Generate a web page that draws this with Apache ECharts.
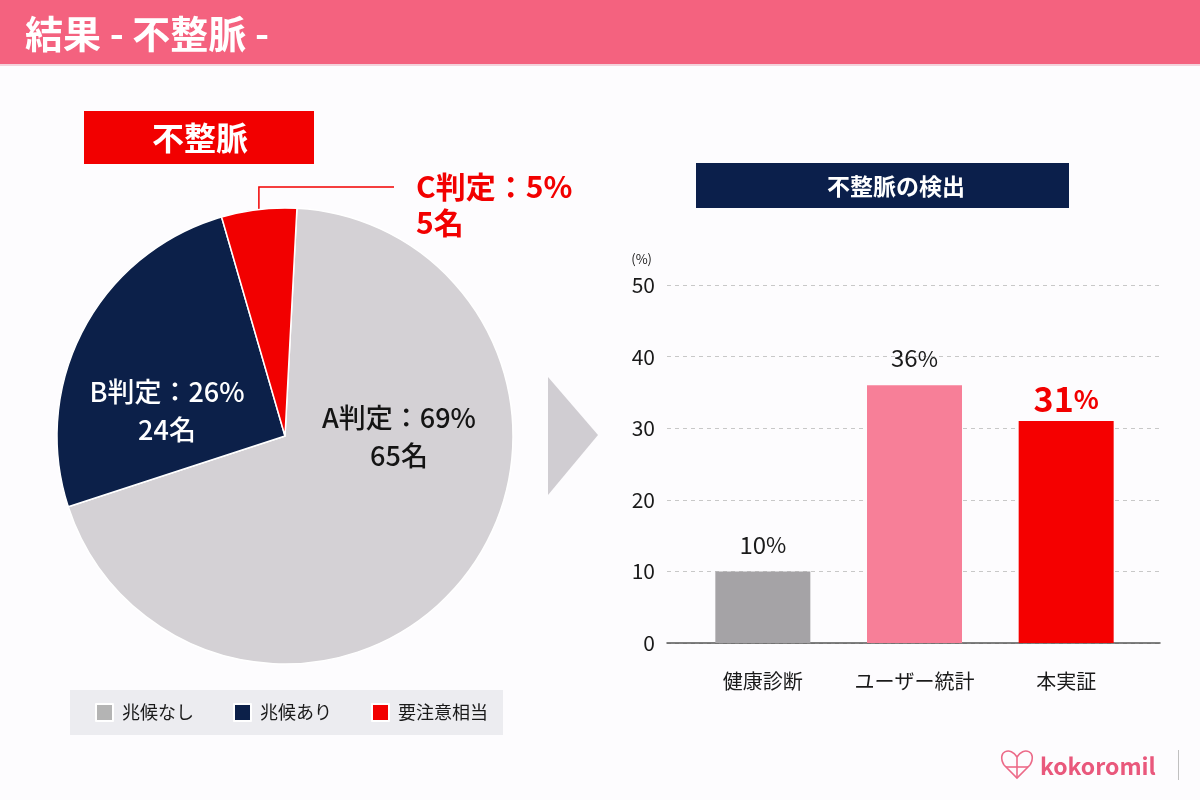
<!DOCTYPE html>
<html>
<head>
<meta charset="utf-8">
<script src="https://cdn.jsdelivr.net/npm/echarts@6/dist/echarts.min.js"></script>
<style>
  html, body { margin: 0; padding: 0; background: #fdfcfe; }
  #main { width: 1200px; height: 800px; }
</style>
</head>
<body>
<div id="main"></div>
<script>
// 円グラフ（不整脈の判定）
var pieNames = ['兆候なし', '兆候あり', '要注意相当'];
var pieGrades = ['A', 'B', 'C'];
var pieCounts = [65, 24, 5];

// 棒グラフ（不整脈の検出率 %）
var barCategories = ['健康診断', 'ユーザー統計', '本実証'];
var barValues = [10, 36, 31];
var yMin = 0, yMax = 50, yStep = 10;

var FONT = '"Noto Sans CJK JP", "Noto Sans", sans-serif';
var pieColors = ['#d4d1d5', '#0c2049', '#f20000'];
var legendColors = ['#b4b4b4', '#0c2049', '#f20000'];
var labelColors = ['#141414', '#ffffff', '#f20000'];
var barColors = ['#a5a3a6', '#f77f98', '#f50000'];

var myChart = echarts.init(document.getElementById('main'));

var pieData = pieNames.map(function (n, i) {
    return {
        name: n,
        value: pieCounts[i],
        itemStyle: { color: pieColors[i] },
        label: i === 2 ? {
            position: 'outside',
            color: labelColors[i],
            fontSize: 30,
            fontWeight: 'bold',
            lineHeight: 36,
            overflow: 'none',
            width: 300
        } : {
            position: 'inside',
            color: labelColors[i],
            fontSize: 27,
            fontWeight: 500,
            lineHeight: 38
        },
        labelLine: { show: i === 2 }
    };
});

var barData = barValues.map(function (v, i) {
    var big = i === 2;
    return {
        value: v,
        itemStyle: { color: barColors[i] },
        label: {
            distance: big ? 5 : 15,
            formatter: '{v|{c}}{p|%}',
            rich: {
                v: { fontSize: big ? 34 : 24, fontWeight: big ? 'bold' : 'normal', color: big ? '#f20000' : '#1a1a1a', fontFamily: FONT },
                p: { fontSize: big ? 26 : 22, fontWeight: big ? 'bold' : 'normal', color: big ? '#f20000' : '#1a1a1a', fontFamily: FONT }
            }
        }
    };
});

var logoStroke = { fill: 'none', stroke: '#ec6a88', lineWidth: 1.6 };

var option = {
    backgroundColor: '#fdfcfe',
    textStyle: { fontFamily: FONT },
    animation: false,
    legend: {
        left: 70,
        top: 690,
        padding: [13, 15, 13, 25],
        backgroundColor: '#ececf0',
        itemWidth: 17,
        itemHeight: 17,
        itemGap: 39,
        icon: 'rect',
        textStyle: { fontSize: 18, color: '#1a1a1a', fontFamily: FONT, padding: [0, 0, 0, 4] },
        data: pieNames.map(function (n, i) {
            return { name: n, itemStyle: { color: legendColors[i] } };
        })
    },
    grid: [
        { left: 667, right: 40, top: 285, bottom: 157 },
        { left: 687, right: 58, top: 285, bottom: 157 }
    ],
    xAxis: [
        {
            type: 'category', gridIndex: 0, data: barCategories,
            axisLine: { lineStyle: { color: '#555', width: 1.5 } },
            axisTick: { show: false }, axisLabel: { show: false }
        },
        {
            type: 'category', gridIndex: 1, data: barCategories,
            axisLine: { show: false }, axisTick: { show: false },
            axisLabel: { interval: 0, margin: 28, fontSize: 20, color: '#1a1a1a', fontFamily: FONT }
        }
    ],
    yAxis: [
        {
            type: 'value', gridIndex: 0, min: yMin, max: yMax, interval: yStep,
            name: '(%)', nameLocation: 'end', nameGap: 19,
            nameTextStyle: { fontSize: 13, color: '#1a1a1a', align: 'right', padding: [0, 15, 0, 0] },
            axisLine: { show: false }, axisTick: { show: false },
            axisLabel: { margin: 12, fontSize: 21, color: '#1a1a1a', fontFamily: FONT },
            splitLine: { lineStyle: { color: '#c8c8c8', type: [4, 4] } }
        },
        {
            type: 'value', gridIndex: 1, min: yMin, max: yMax, interval: yStep,
            axisLine: { show: false }, axisTick: { show: false },
            axisLabel: { show: false }, splitLine: { show: false }
        }
    ],
    series: [
        {
            type: 'pie',
            center: [285, 436],
            radius: 228,
            startAngle: 87,
            clockwise: true,
            percentPrecision: 0,
            itemStyle: { borderColor: '#ffffff', borderWidth: 1.5 },
            emphasis: { disabled: true },
            label: {
                fontFamily: FONT,
                formatter: function (p) {
                    return pieGrades[p.dataIndex] + '判定：' + p.percent + '%\n' + p.value + '名';
                }
            },
            labelLine: { length: 20, length2: 130, lineStyle: { color: '#f20000', width: 1.5 } },
            labelLayout: function (p) {
                var i = p.dataIndex;
                if (i === 0) return { x: 399, y: 437, align: 'center', verticalAlign: 'middle' };
                if (i === 1) return { x: 167, y: 411, align: 'center', verticalAlign: 'middle' };
                var s = p.labelLinePoints ? p.labelLinePoints[0] : [258, 208];
                return {
                    x: 416, y: 205, align: 'left', verticalAlign: 'middle',
                    labelLinePoints: [s, [s[0], 187], [394, 187]]
                };
            },
            data: pieData
        },
        {
            type: 'bar',
            xAxisIndex: 1,
            yAxisIndex: 1,
            barWidth: 95,
            label: { show: true, position: 'top' },
            data: barData
        }
    ],
    graphic: [
        // ヘッダー
        { type: 'rect', shape: { x: 0, y: 0, width: 1200, height: 64 }, style: { fill: '#f4627f' } },
        { type: 'rect', shape: { x: 0, y: 64, width: 1200, height: 2 }, style: { fill: '#f3d3dc' } },
        { type: 'text', x: 25, y: 34, style: { text: '結果 - 不整脈 -', fill: '#ffffff', font: 'bold 38px ' + FONT, verticalAlign: 'middle' } },
        // 左の見出し
        { type: 'rect', shape: { x: 84, y: 111, width: 230, height: 53 }, style: { fill: '#f20000' } },
        { type: 'text', x: 200, y: 138, style: { text: '不整脈', fill: '#ffffff', font: 'bold 32px ' + FONT, align: 'center', verticalAlign: 'middle' } },
        // 右の見出し
        { type: 'rect', shape: { x: 696, y: 163, width: 373, height: 45 }, style: { fill: '#0b1f4b' } },
        { type: 'text', x: 896, y: 186, style: { text: '不整脈の検出', fill: '#ffffff', font: 'bold 23px ' + FONT, align: 'center', verticalAlign: 'middle' } },
        // 矢印
        { type: 'polygon', shape: { points: [[548, 377], [598, 435], [548, 495]] }, style: { fill: '#d0cdd2' } },
        // ロゴ
        { type: 'bezierCurve', shape: { x1: 1017, y1: 757, cpx1: 1011, cpy1: 746, cpx2: 996, cpy2: 751, x2: 1004, y2: 765 }, style: logoStroke },
        { type: 'bezierCurve', shape: { x1: 1017, y1: 757, cpx1: 1023, cpy1: 746, cpx2: 1038, cpy2: 751, x2: 1030, y2: 765 }, style: logoStroke },
        { type: 'polyline', shape: { points: [[1004, 765], [1017, 778], [1030, 765]] }, style: logoStroke },
        { type: 'line', shape: { x1: 1017, y1: 757, x2: 1017, y2: 778 }, style: logoStroke },
        { type: 'line', shape: { x1: 1006, y1: 767, x2: 1028, y2: 767 }, style: logoStroke },
        { type: 'text', x: 1040, y: 766, style: { text: 'kokoromil', fill: '#e9587c', font: 'bold 23px ' + FONT, verticalAlign: 'middle' } },
        { type: 'rect', shape: { x: 1178, y: 750, width: 1, height: 30 }, style: { fill: '#c0c0c0' } }
    ]
};

myChart.setOption(option);
</script>
</body>
</html>
